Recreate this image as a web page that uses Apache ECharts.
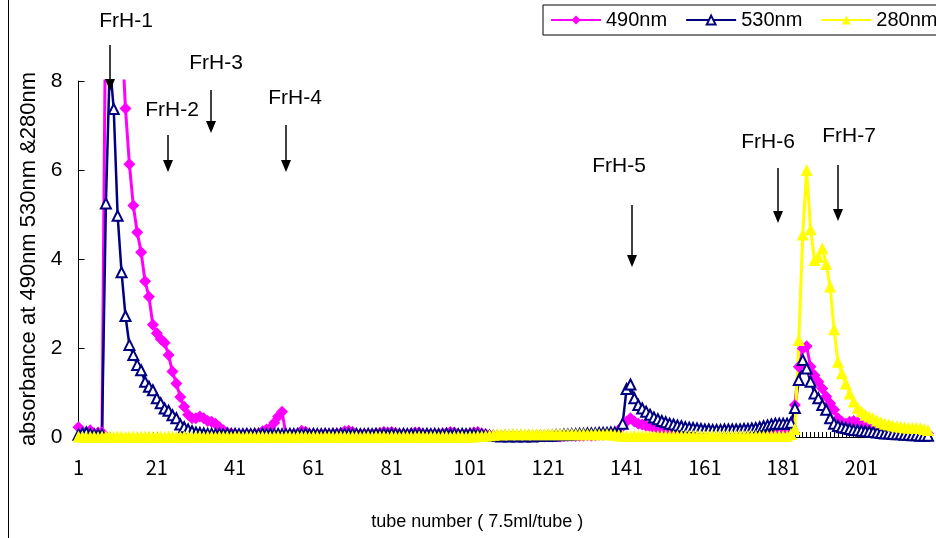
<!DOCTYPE html>
<html>
<head>
<meta charset="utf-8">
<script src="https://cdn.jsdelivr.net/npm/echarts@6/dist/echarts.min.js"></script>
<style>
html,body{margin:0;padding:0;background:#fff;}
#chart{width:936px;height:538px;}
</style>
</head>
<body>
<div id="chart"></div>
<script>
// ---------------- DATA ----------------
const TUBE_COUNT = 218;
const tubes = [];
for (let i = 1; i <= TUBE_COUNT; i++) tubes.push(String(i));

const seriesNames = ['490nm', '530nm', '280nm'];

// absorbance at 490 nm (tubes 1..218)
const abs490 = [
  0.22, 0.12, 0.08, 0.15, 0.08, 0.10, 0.10, 10.5, 13.0, 12.0,
  10.5, 9.2, 7.38, 6.13, 5.20, 4.60, 4.15, 3.50, 3.15, 2.52,
  2.33, 2.20, 2.12, 1.84, 1.47, 1.20, 0.90, 0.68, 0.50, 0.42,
  0.42, 0.46, 0.42, 0.36, 0.34, 0.30, 0.22, 0.15, 0.10, 0.08,
  0.07, 0.06, 0.06, 0.07, 0.06, 0.07, 0.08, 0.13, 0.17, 0.20,
  0.32, 0.46, 0.57, 0.05, 0.06, 0.07, 0.08, 0.14, 0.12, 0.07,
  0.06, 0.07, 0.06, 0.07, 0.06, 0.07, 0.08, 0.09, 0.13, 0.14,
  0.12, 0.07, 0.06, 0.07, 0.06, 0.07, 0.08, 0.09, 0.11, 0.10,
  0.11, 0.09, 0.07, 0.06, 0.07, 0.08, 0.10, 0.10, 0.07, 0.06,
  0.07, 0.06, 0.07, 0.08, 0.09, 0.11, 0.10, 0.07, 0.06, 0.07,
  0.08, 0.10, 0.11, 0.08, 0.06, 0.04, 0.02, 0.01, 0.02, 0.01,
  0.02, 0.01, 0.02, 0.01, 0.02, 0.01, 0.02, 0.01, 0.02, 0.01,
  0.02, 0.01, 0.02, 0.01, 0.02, 0.02, 0.03, 0.02, 0.03, 0.03,
  0.04, 0.03, 0.04, 0.05, 0.05, 0.06, 0.07, 0.08, 0.15, 0.25,
  0.35, 0.42, 0.35, 0.30, 0.28, 0.25, 0.23, 0.21, 0.19, 0.17,
  0.16, 0.15, 0.14, 0.13, 0.13, 0.12, 0.11, 0.11, 0.10, 0.10,
  0.09, 0.09, 0.08, 0.09, 0.08, 0.08, 0.09, 0.08, 0.08, 0.09,
  0.08, 0.09, 0.09, 0.10, 0.10, 0.11, 0.11, 0.12, 0.12, 0.12,
  0.11, 0.10, 0.15, 0.72, 1.58, 1.99, 2.04, 1.58, 1.39, 1.24,
  1.09, 0.91, 0.76, 0.61, 0.42, 0.34, 0.30, 0.34, 0.36, 0.33,
  0.30, 0.25, 0.22, 0.20, 0.18, 0.17, 0.15, 0.14, 0.13, 0.12,
  0.11, 0.11, 0.10, 0.10, 0.09, 0.09, 0.08, 0.08
];

// absorbance at 530 nm
const abs530 = [
  0.05, 0.08, 0.10, 0.06, 0.05, 0.05, 0.05, 5.25, 8.40, 7.37,
  4.97, 3.70, 2.72, 2.07, 1.84, 1.62, 1.50, 1.24, 1.13, 1.05,
  0.87, 0.76, 0.64, 0.59, 0.49, 0.42, 0.28, 0.22, 0.17, 0.13,
  0.10, 0.09, 0.08, 0.07, 0.07, 0.06, 0.07, 0.06, 0.07, 0.06,
  0.07, 0.06, 0.06, 0.07, 0.06, 0.07, 0.06, 0.07, 0.06, 0.07,
  0.06, 0.07, 0.06, 0.06, 0.07, 0.06, 0.07, 0.06, 0.07, 0.06,
  0.07, 0.06, 0.06, 0.07, 0.06, 0.07, 0.06, 0.07, 0.06, 0.07,
  0.06, 0.07, 0.06, 0.06, 0.07, 0.06, 0.07, 0.06, 0.07, 0.06,
  0.07, 0.06, 0.06, 0.07, 0.06, 0.07, 0.06, 0.07, 0.06, 0.07,
  0.06, 0.07, 0.06, 0.06, 0.07, 0.06, 0.07, 0.06, 0.07, 0.06,
  0.07, 0.06, 0.06, 0.05, 0.04, 0.03, 0.02, 0.02, 0.01, 0.02,
  0.01, 0.02, 0.01, 0.02, 0.01, 0.02, 0.01, 0.02, 0.02, 0.02,
  0.03, 0.03, 0.04, 0.04, 0.05, 0.05, 0.06, 0.06, 0.07, 0.07,
  0.08, 0.08, 0.08, 0.09, 0.09, 0.09, 0.10, 0.10, 0.10, 0.30,
  1.08, 1.18, 0.87, 0.72, 0.64, 0.57, 0.50, 0.44, 0.40, 0.36,
  0.33, 0.30, 0.28, 0.26, 0.24, 0.22, 0.21, 0.20, 0.19, 0.18,
  0.17, 0.17, 0.16, 0.16, 0.16, 0.17, 0.17, 0.17, 0.17, 0.17,
  0.18, 0.18, 0.19, 0.20, 0.22, 0.24, 0.26, 0.28, 0.30, 0.30,
  0.30, 0.30, 0.32, 0.65, 1.28, 1.73, 1.54, 1.24, 0.98, 0.87,
  0.72, 0.61, 0.42, 0.30, 0.25, 0.22, 0.20, 0.18, 0.16, 0.15,
  0.14, 0.13, 0.12, 0.11, 0.10, 0.09, 0.08, 0.08, 0.07, 0.06,
  0.06, 0.05, 0.05, 0.04, 0.04, 0.03, 0.03, 0.03
];

// absorbance at 280 nm
const abs280 = [
  0.01, 0.01, 0.00, 0.01, 0.01, 0.00, 0.01, 0.01, 0.01, 0.00,
  0.01, 0.01, 0.00, 0.01, 0.01, 0.00, 0.01, 0.01, 0.01, 0.00,
  0.01, 0.01, 0.00, 0.01, 0.01, 0.00, 0.01, 0.01, 0.01, 0.00,
  0.01, 0.01, 0.00, 0.01, 0.01, 0.00, 0.01, 0.01, 0.01, 0.00,
  0.01, 0.01, 0.00, 0.01, 0.01, 0.00, 0.01, 0.01, 0.01, 0.00,
  0.01, 0.01, 0.00, 0.01, 0.01, 0.00, 0.01, 0.01, 0.01, 0.00,
  0.01, 0.01, 0.00, 0.01, 0.01, 0.00, 0.01, 0.01, 0.01, 0.00,
  0.01, 0.01, 0.00, 0.01, 0.01, 0.00, 0.01, 0.01, 0.01, 0.00,
  0.01, 0.01, 0.00, 0.01, 0.01, 0.00, 0.01, 0.01, 0.01, 0.00,
  0.01, 0.01, 0.00, 0.01, 0.01, 0.00, 0.01, 0.01, 0.01, 0.00,
  0.01, 0.01, 0.02, 0.02, 0.03, 0.04, 0.05, 0.06, 0.06, 0.06,
  0.06, 0.07, 0.06, 0.06, 0.07, 0.06, 0.06, 0.07, 0.06, 0.06,
  0.07, 0.06, 0.06, 0.07, 0.06, 0.06, 0.07, 0.06, 0.06, 0.07,
  0.06, 0.06, 0.07, 0.06, 0.06, 0.07, 0.06, 0.05, 0.04, 0.03,
  0.02, 0.02, 0.02, 0.02, 0.02, 0.02, 0.02, 0.02, 0.02, 0.02,
  0.02, 0.02, 0.02, 0.02, 0.02, 0.02, 0.02, 0.02, 0.02, 0.02,
  0.02, 0.02, 0.02, 0.02, 0.02, 0.02, 0.02, 0.02, 0.02, 0.02,
  0.02, 0.02, 0.02, 0.02, 0.02, 0.02, 0.02, 0.02, 0.02, 0.02,
  0.02, 0.02, 0.07, 0.18, 2.18, 4.55, 6.00, 4.67, 3.98, 4.05,
  4.24, 3.89, 3.38, 2.42, 1.69, 1.43, 1.20, 0.98, 0.80, 0.66,
  0.58, 0.50, 0.46, 0.42, 0.37, 0.33, 0.30, 0.28, 0.26, 0.24,
  0.23, 0.22, 0.21, 0.21, 0.20, 0.20, 0.18, 0.16
];

const yTicks = [0, 2, 4, 6, 8];
const fractionLabels = ['FrH-1', 'FrH-2', 'FrH-3', 'FrH-4', 'FrH-5', 'FrH-6', 'FrH-7'];
const xAxisTitle = 'tube number ( 7.5ml/tube )';
const yAxisTitle = 'absorbance at 490nm 530nm &280nm';

// ---------------- LAYOUT (annotation placement, pixels) ----------------
const annotLayout = [
  {tx: 126, ty: 21,  ax: 110, ay1: 45,  ay2: 91},
  {tx: 172, ty: 110, ax: 168, ay1: 135, ay2: 172},
  {tx: 216, ty: 63,  ax: 211, ay1: 90,  ay2: 133},
  {tx: 295, ty: 98,  ax: 286, ay1: 125, ay2: 172},
  {tx: 619, ty: 166, ax: 632, ay1: 205, ay2: 267},
  {tx: 768, ty: 142, ax: 778, ay1: 168, ay2: 223},
  {tx: 849, ty: 136, ax: 838, ay1: 165, ay2: 221}
];

const FONT = '"Liberation Sans", Arial, sans-serif';
const NARROW = '"Noto Sans CJK JP", "Liberation Sans", Arial, sans-serif';

const graphics = [
  {type: 'line', shape: {x1: 8.5, y1: 0, x2: 8.5, y2: 538}, style: {stroke: '#000', lineWidth: 1}, silent: true}
];
fractionLabels.forEach((lab, i) => {
  const L = annotLayout[i];
  graphics.push({
    type: 'text', x: L.tx, y: L.ty,
    style: {text: lab, fill: '#000', font: '21px ' + FONT, textAlign: 'center', textVerticalAlign: 'middle'},
    z: 100
  });
  graphics.push({
    type: 'line', shape: {x1: L.ax, y1: L.ay1, x2: L.ax, y2: L.ay2 - 8},
    style: {stroke: '#000', lineWidth: 1.5}, z: 100
  });
  graphics.push({
    type: 'polygon', shape: {points: [[L.ax - 5, L.ay2 - 12], [L.ax + 5, L.ay2 - 12], [L.ax, L.ay2]]},
    style: {fill: '#000'}, z: 100
  });
});

const chart = echarts.init(document.getElementById('chart'), null, {renderer: 'canvas'});
chart.setOption({
  animation: false,
  backgroundColor: '#fff',
  grid: {left: 78.5, right: 8, top: 81, bottom: 101},
  legend: {
    data: seriesNames,
    left: 543, top: 5,
    width: 600,
    padding: [5, 7, 5, 7],
    borderColor: '#000', borderWidth: 1,
    itemWidth: 50, itemHeight: 11, itemGap: 18,
    textStyle: {fontFamily: FONT, fontSize: 20, color: '#000'}
  },
  xAxis: {
    type: 'category',
    data: tubes,
    boundaryGap: false,
    axisLine: {lineStyle: {color: '#000', width: 1}},
    axisTick: {show: true, inside: true, length: 5, interval: 0, lineStyle: {color: '#000'}},
    axisLabel: {interval: 19, margin: 20, fontSize: 20, fontFamily: NARROW, color: '#000'},
    splitLine: {show: false},
    name: xAxisTitle,
    nameLocation: 'middle',
    nameGap: 76,
    nameTextStyle: {fontFamily: FONT, fontSize: 18, color: '#000', padding: [0, 52, 0, 0]}
  },
  yAxis: {
    type: 'value',
    min: yTicks[0], max: yTicks[yTicks.length - 1], interval: 2,
    axisLine: {show: true, lineStyle: {color: '#000', width: 1}},
    axisTick: {show: true, inside: true, length: 6, lineStyle: {color: '#000'}},
    axisLabel: {margin: 16, fontSize: 21, fontFamily: FONT, color: '#000'},
    splitLine: {show: false},
    name: yAxisTitle,
    nameLocation: 'middle',
    nameGap: 36,
    nameRotate: 90,
    nameTextStyle: {fontFamily: FONT, fontSize: 22, color: '#000'}
  },
  series: [
    {
      name: seriesNames[0], type: 'line', data: abs490,
      symbol: 'diamond', symbolSize: 12, showAllSymbol: true, clip: true,
      lineStyle: {color: '#FF00FF', width: 3},
      itemStyle: {color: '#FF00FF'}
    },
    {
      name: seriesNames[1], type: 'line', data: abs530,
      symbol: 'emptyTriangle', symbolSize: 10, showAllSymbol: true, clip: true,
      lineStyle: {color: '#000080', width: 2.5},
      itemStyle: {color: '#000080', borderColor: '#000080', borderWidth: 2}
    },
    {
      name: seriesNames[2], type: 'line', data: abs280,
      symbol: 'triangle', symbolSize: 12, showAllSymbol: true, clip: true,
      lineStyle: {color: '#FFFF00', width: 3},
      itemStyle: {color: '#FFFF00'}
    }
  ],
  graphic: graphics
});
</script>
</body>
</html>
